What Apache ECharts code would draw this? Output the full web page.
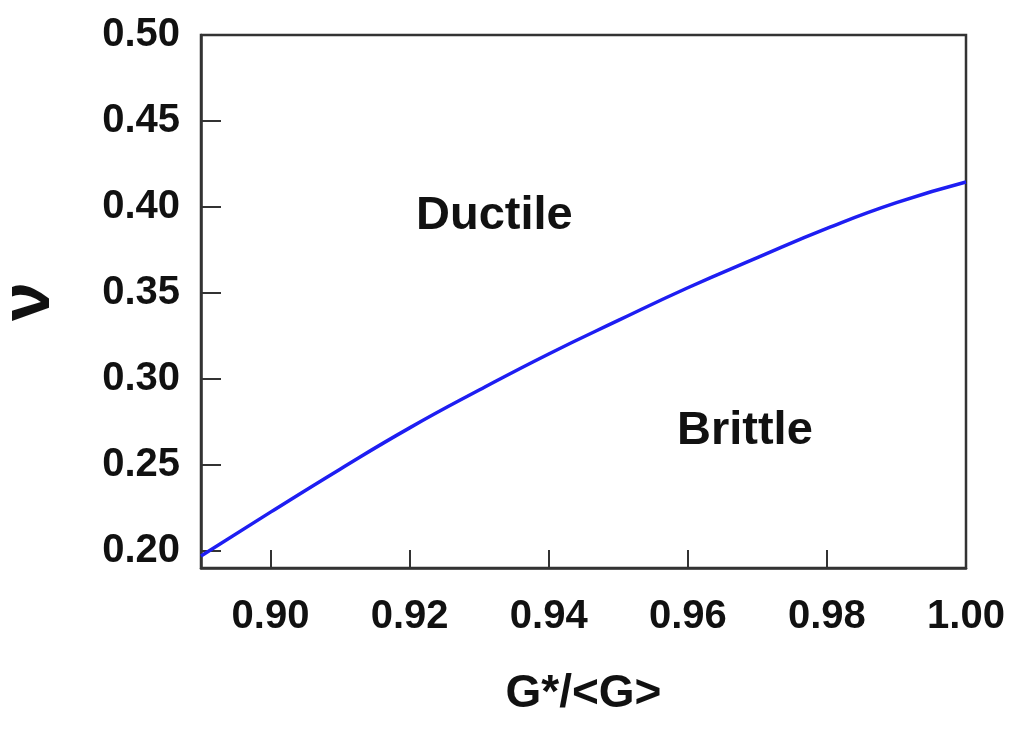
<!DOCTYPE html>
<html>
<head>
<meta charset="utf-8">
<script src="https://cdn.jsdelivr.net/npm/echarts@6/dist/echarts.min.js"></script>
<style>
  html, body { margin: 0; padding: 0; background: #fff; }
  #chart { width: 1024px; height: 731px; }
</style>
</head>
<body>
<div id="chart"></div>
<script>
// curve
const ratio = [0.89, 0.90, 0.91, 0.92, 0.93, 0.94, 0.95, 0.96, 0.97, 0.98, 0.99, 1.00]
const nu = [0.197, 0.2225, 0.2475, 0.2715, 0.2935, 0.3145, 0.334, 0.353, 0.3705, 0.3875, 0.4025, 0.4145]
const xTicks = [0.90, 0.92, 0.94, 0.96, 0.98, 1.00]
const yTicks = [0.20, 0.25, 0.30, 0.35, 0.40, 0.45, 0.50]

const font = '"Liberation Sans", Arial, sans-serif'
const frame = '#333'

const chart = echarts.init(document.getElementById('chart'))
chart.setOption({
  backgroundColor: '#fff',
  animation: false,
  grid: {
    left: 201,
    top: 35,
    right: 58,
    bottom: 163,
    outerBoundsMode: 'none',
    containLabel: false,
    show: true,
    borderColor: frame,
    borderWidth: 2.5,
  },
  xAxis: {
    type: 'value',
    min: 0.89,
    max: 1.0,
    name: 'G*/<G>',
    nameLocation: 'middle',
    nameGap: 103,
    nameTextStyle: { fontFamily: font, fontWeight: 'bold', fontSize: 46, color: '#111' },
    axisLine: { show: true, lineStyle: { color: frame, width: 2.5 } },
    axisTick: { show: true, inside: true, length: 18, customValues: xTicks, lineStyle: { color: frame, width: 2 } },
    axisLabel: {
      customValues: xTicks,
      margin: 29,
      fontFamily: font,
      fontWeight: 'bold',
      fontSize: 40,
      color: '#111',
      formatter: (v) => v.toFixed(2),
    },
    splitLine: { show: false },
  },
  yAxis: {
    type: 'value',
    min: 0.19,
    max: 0.50,
    name: 'ν',
    nameLocation: 'middle',
    nameRotate: 90,
    nameGap: 136,
    nameTextStyle: { fontFamily: font, fontWeight: 'bold', fontSize: 70, color: '#111' },
    axisLine: { show: true, lineStyle: { color: frame, width: 2.5 } },
    axisTick: { show: true, inside: true, length: 20, customValues: yTicks, lineStyle: { color: frame, width: 2 } },
    axisLabel: {
      customValues: yTicks,
      margin: 21,
      fontFamily: font,
      fontWeight: 'bold',
      fontSize: 40,
      color: '#111',
      formatter: (v) => v.toFixed(2),
    },
    splitLine: { show: false },
  },
  graphic: [
    {
      type: 'text',
      left: 416,
      top: 193,
      style: { text: 'Ductile', font: 'bold 47px ' + font, fill: '#111' },
    },
    {
      type: 'text',
      left: 677,
      top: 408,
      style: { text: 'Brittle', font: 'bold 47px ' + font, fill: '#111' },
    },
  ],
  series: [
    {
      type: 'line',
      data: ratio.map((r, i) => [r, nu[i]]),
      smooth: true,
      showSymbol: false,
      lineStyle: { color: '#1e1ef2', width: 3.5 },
    },
  ],
})
</script>
</body>
</html>
